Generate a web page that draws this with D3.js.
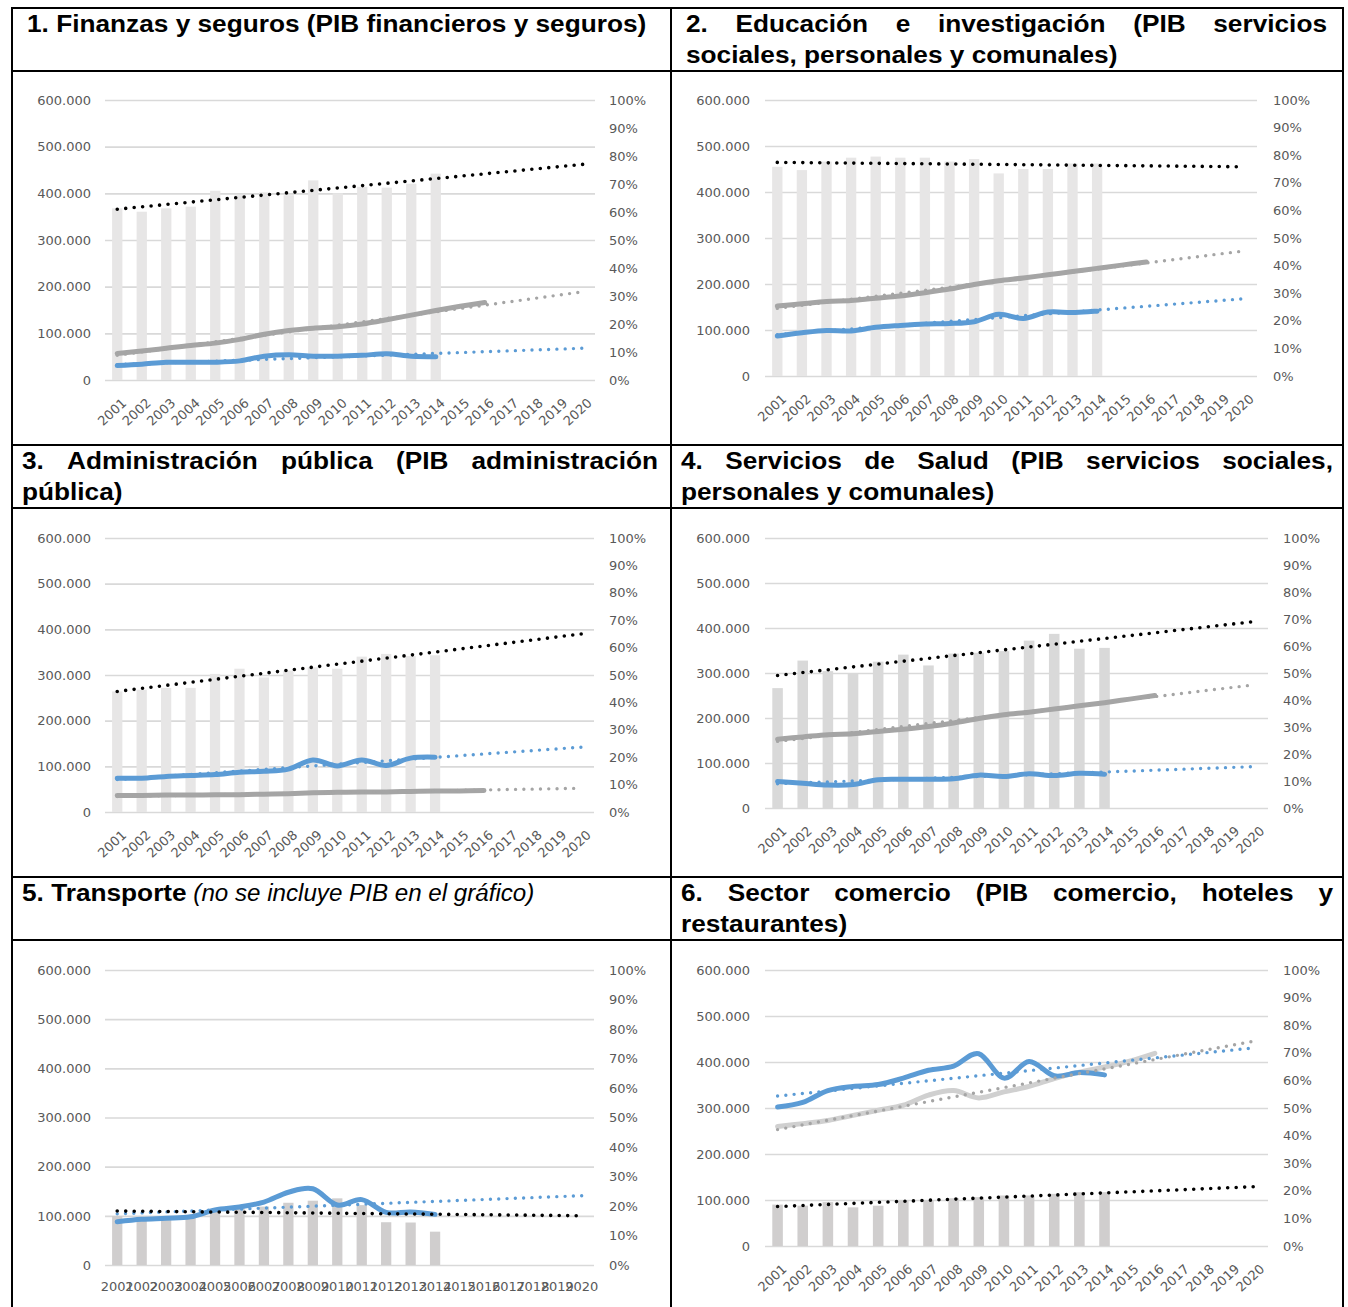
<!DOCTYPE html>
<html><head><meta charset="utf-8">
<script src="https://cdn.jsdelivr.net/npm/d3@7"></script>
<style>
body{margin:0;background:#fff}
.hd{font-family:"Liberation Sans",Arial,sans-serif;font-weight:bold;font-size:23px;fill:#000}
.hdi{font-family:"Liberation Sans",Arial,sans-serif;font-style:italic;font-size:23px;fill:#000}
.ax text{font-family:"DejaVu Sans",sans-serif;font-size:13px;fill:#595959}
</style>
</head><body>
<svg id="c" width="1348" height="1307"></svg>
<script>
// ---------- shared categories / ticks ----------
const years = ["2001","2002","2003","2004","2005","2006","2007","2008","2009","2010",
               "2011","2012","2013","2014","2015","2016","2017","2018","2019","2020"];
const barYears  = years.slice(0, 14);
const blueYears = years.slice(0, 14);
const grayYears = years.slice(0, 16);
const trendYears = ["2001", "2020"];
const leftTicks = [0, 100000, 200000, 300000, 400000, 500000, 600000];
const leftTickLabels = ["0", "100.000", "200.000", "300.000", "400.000", "500.000", "600.000"];
const rightTicks = [0, 10, 20, 30, 40, 50, 60, 70, 80, 90, 100];
const rightTickLabels = ["0%", "10%", "20%", "30%", "40%", "50%", "60%", "70%", "80%", "90%", "100%"];

// ---------- titles ----------
const title1 = ["1. Finanzas y seguros (PIB financieros y seguros)"];
const title2 = ["2. Educación e investigación (PIB servicios", "sociales, personales y comunales)"];
const title3 = ["3. Administración pública (PIB administración", "pública)"];
const title4 = ["4. Servicios de Salud (PIB servicios sociales,", "personales y comunales)"];
const title5Bold = "5. Transporte";
const title5Italic = " (no se incluye PIB en el gráfico)";
const title6 = ["6. Sector comercio (PIB comercio, hoteles y", "restaurantes)"];

// ---------- panel 1 ----------
const p1Bars = [61.3, 60.1, 61.3, 61.9, 67.6, 66.0, 67.0, 66.0, 71.3, 66.7, 69.0, 68.7, 70.1, 73.7];
const p1Blue = [31000, 34000, 38000, 38000, 38000, 41000, 51000, 54000, 51000, 51000, 53000, 56000, 51000, 50000];
const p1Gray = [57000, 62000, 68000, 74000, 79000, 87000, 98000, 106000, 111000, 114000, 120000, 129000, 139000, 149000, 158000, 166000];
const p1BarsTrend = [61, 77];
const p1BlueTrend = [33000, 68000];
const p1GrayTrend = [53000, 189000];

// ---------- panel 2 ----------
const p2Bars = [75.8, 74.6, 77.7, 79.1, 79.5, 79.1, 79.1, 77.7, 78.6, 73.4, 75.0, 75.0, 77.0, 77.0];
const p2Blue = [87000, 94000, 99000, 98000, 106000, 110000, 113000, 114000, 118000, 134000, 125000, 139000, 138000, 141000];
const p2Gray = [152000, 157000, 162000, 164000, 169000, 174000, 181000, 189000, 199000, 207000, 213000, 220000, 227000, 234000, 241000, 248000];
const p2BarsTrend = [77.4, 75.8];
const p2BlueTrend = [90000, 168000];
const p2GrayTrend = [147000, 272000];

// ---------- panel 3 ----------
const p3Bars = [44.0, 44.6, 45.3, 45.3, 50.4, 52.3, 49.1, 51.6, 52.8, 52.3, 56.7, 57.7, 56.9, 57.2];
const p3Blue = [74000, 74000, 78000, 80000, 82000, 87000, 89000, 94000, 114000, 101000, 114000, 102000, 118000, 120000];
const p3Gray = [36000, 36000, 37000, 37000, 38000, 38000, 39000, 40000, 42000, 43000, 44000, 44000, 45000, 46000, 46000, 47000];
const p3BarsTrend = [44, 65];
const p3BlueTrend = [71000, 142000];
const p3GrayTrend = [34000, 52000];

// ---------- panel 4 ----------
const p4Bars = [44.4, 54.6, 50.7, 50.0, 54.2, 56.8, 52.8, 57.2, 57.5, 58.1, 62.0, 64.5, 59.0, 59.3];
const p4Blue = [59000, 55000, 51000, 52000, 63000, 64000, 64000, 65000, 73000, 70000, 76000, 72000, 77000, 75000];
const p4Gray = [153000, 158000, 163000, 165000, 170000, 175000, 181000, 189000, 199000, 207000, 213000, 220000, 227000, 234000, 242000, 250000];
const p4BarsTrend = [49.1, 69.1];
const p4BlueTrend = [54000, 92000];
const p4GrayTrend = [148000, 274000];

// ---------- panel 5 ----------
const p5Bars = [16.6, 15.8, 16.4, 17.0, 18.6, 19.8, 19.8, 21.1, 21.8, 22.6, 20.3, 14.5, 14.4, 11.3];
const p5Blue = [88000, 93000, 95000, 98000, 112000, 118000, 128000, 148000, 155000, 122000, 133000, 107000, 108000, 103000];
const p5BarsTrend = [18.3, 16.7];
const p5BlueTrend = [104000, 141000];

// ---------- panel 6 ----------
const p6Bars = [15.0, 14.6, 15.9, 14.0, 14.6, 16.5, 16.5, 17.3, 17.7, 18.3, 18.3, 18.9, 19.5, 19.5];
const p6Blue = [302000, 312000, 338000, 347000, 351000, 365000, 382000, 391000, 418000, 365000, 401000, 370000, 377000, 372000];
const p6Gray = [260000, 266000, 273000, 284000, 295000, 306000, 328000, 338000, 322000, 335000, 347000, 364000, 378000, 389000, 402000, 419000];
const p6BarsTrend = [14.3, 21.5];
const p6BlueTrend = [326000, 431000];
const p6GrayTrend = [253000, 446000];

// ---------- layout (positions and styles only) ----------
const BLUE = "#5b9bd5", GRAY = "#a5a5a5";
const panels = [
  {gx0:105, gx1:595, yTop:100, yBot:380, lp:14, rp:14, barColor:"#e7e6e6", grayColor:GRAY,
   bars:p1Bars, blue:p1Blue, gray:p1Gray, barsTrend:p1BarsTrend, blueTrend:p1BlueTrend, grayTrend:p1GrayTrend},
  {gx0:765, gx1:1257, yTop:100, yBot:376, lp:15, rp:16, barColor:"#e7e6e6", grayColor:GRAY,
   bars:p2Bars, blue:p2Blue, gray:p2Gray, barsTrend:p2BarsTrend, blueTrend:p2BlueTrend, grayTrend:p2GrayTrend},
  {gx0:105, gx1:594, yTop:538, yBot:812, lp:14, rp:15, barColor:"#e7e6e6", grayColor:GRAY,
   bars:p3Bars, blue:p3Blue, gray:p3Gray, barsTrend:p3BarsTrend, blueTrend:p3BlueTrend, grayTrend:p3GrayTrend},
  {gx0:765, gx1:1268, yTop:538, yBot:808, lp:15, rp:15, barColor:"#d9d9d9", grayColor:GRAY,
   bars:p4Bars, blue:p4Blue, gray:p4Gray, barsTrend:p4BarsTrend, blueTrend:p4BlueTrend, grayTrend:p4GrayTrend},
  {gx0:105, gx1:594, yTop:970, yBot:1265, lp:14, rp:15, barColor:"#d0cece", grayColor:GRAY, flatLabels:true,
   bars:p5Bars, blue:p5Blue, gray:null, barsTrend:p5BarsTrend, blueTrend:p5BlueTrend, grayTrend:null},
  {gx0:765, gx1:1268, yTop:970, yBot:1246, lp:15, rp:15, barColor:"#d0cece", grayColor:"#d0d0d0",
   bars:p6Bars, blue:p6Blue, gray:p6Gray, barsTrend:p6BarsTrend, blueTrend:p6BlueTrend, grayTrend:p6GrayTrend}
];

const svg = d3.select("#c");
const SX = 1.14;

// ---------- table borders ----------
const hLines = [8, 71, 445, 508, 877, 940];
const vLines = [12, 671, 1343];
svg.selectAll(".hl").data(hLines).join("line")
  .attr("x1", 11).attr("x2", 1344).attr("y1", d => d).attr("y2", d => d)
  .attr("stroke", "#000").attr("stroke-width", 2);
svg.selectAll(".vl").data(vLines).join("line")
  .attr("x1", d => d).attr("x2", d => d).attr("y1", 7).attr("y2", 1307)
  .attr("stroke", "#000").attr("stroke-width", 2);

// ---------- headers ----------
function header(lines, x0, x1, y0, lh) {
  lines.forEach((line, i) => {
    const y = y0 + i * lh;
    if (i === lines.length - 1) {
      const t = svg.append("text").attr("class", "hd").attr("x", x0).attr("y", y).text(line);
      const w = t.node().getComputedTextLength();
      t.attr("textLength", w * SX).attr("lengthAdjust", "spacingAndGlyphs");
    } else {
      const words = line.split(" ");
      const nodes = words.map(w => svg.append("text").attr("class", "hd").attr("y", y).text(w));
      const ws = nodes.map(n => n.node().getComputedTextLength() * SX);
      const gap = (x1 - x0 - d3.sum(ws)) / (words.length - 1);
      let x = x0;
      nodes.forEach((n, k) => {
        n.attr("x", x).attr("textLength", ws[k]).attr("lengthAdjust", "spacingAndGlyphs");
        x += ws[k] + gap;
      });
    }
  });
}
header(title1, 27, 655, 32, 31);
header(title2, 686, 1327, 32, 31);
header(title3, 22, 658, 469, 31);
header(title4, 681, 1333, 469, 31);
header(title6, 681, 1333, 901, 31);
{
  const tb = svg.append("text").attr("class", "hd").attr("x", 22).attr("y", 901).text(title5Bold);
  const wb = tb.node().getComputedTextLength() * SX;
  tb.attr("textLength", wb).attr("lengthAdjust", "spacingAndGlyphs");
  const ti = svg.append("text").attr("class", "hdi").attr("x", 22 + wb).attr("y", 901)
    .attr("xml:space", "preserve").style("white-space", "pre").text(title5Italic);
  const wi = ti.node().getComputedTextLength();
  ti.attr("textLength", wi * 1.05).attr("lengthAdjust", "spacingAndGlyphs");
}

// ---------- charts ----------
function drawPanel(p) {
  const g = svg.append("g");
  const x = d3.scaleBand().domain(years).range([p.gx0, p.gx1]);
  const yL = d3.scaleLinear().domain([0, 600000]).range([p.yBot, p.yTop]);
  const yR = d3.scaleLinear().domain([0, 100]).range([p.yBot, p.yTop]);
  const cx = d => x(d) + x.bandwidth() / 2;

  // left axis with gridlines
  const aL = g.append("g").attr("class", "ax").attr("transform", `translate(${p.gx0},0)`)
    .call(d3.axisLeft(yL).tickValues(leftTicks).tickFormat((d, i) => leftTickLabels[i])
      .tickSize(-(p.gx1 - p.gx0)).tickPadding(p.lp));
  aL.select(".domain").remove();
  aL.selectAll("line").attr("stroke", "#d9d9d9").attr("stroke-width", 1.6);

  // right axis
  const aR = g.append("g").attr("class", "ax").attr("transform", `translate(${p.gx1},0)`)
    .call(d3.axisRight(yR).tickValues(rightTicks).tickFormat((d, i) => rightTickLabels[i])
      .tickSize(0).tickPadding(p.rp));
  aR.select(".domain").remove();

  // bars
  g.append("g").selectAll("rect").data(barYears).join("rect")
    .attr("x", d => cx(d) - x.bandwidth() * 0.21)
    .attr("width", x.bandwidth() * 0.42)
    .attr("y", (d, i) => yR(p.bars[i]))
    .attr("height", (d, i) => yR(0) - yR(p.bars[i]))
    .attr("fill", p.barColor);

  // bottom axis
  const aB = g.append("g").attr("class", "ax").attr("transform", `translate(0,${p.yBot})`)
    .call(d3.axisBottom(x).tickSize(0));
  aB.select(".domain").remove();
  if (p.flatLabels) {
    aB.selectAll("text").attr("y", 26).attr("dy", 0).style("text-anchor", "middle");
  } else {
    aB.selectAll("text").attr("y", 0).attr("dy", 0)
      .attr("transform", "translate(10,24) rotate(-43)")
      .style("text-anchor", "end");
  }

  const smooth = d3.curveCatmullRom.alpha(0);
  // gray line
  if (p.gray) {
    g.append("path").datum(grayYears.map((d, i) => [cx(d), yL(p.gray[i])]))
      .attr("d", d3.line().curve(smooth)).attr("fill", "none")
      .attr("stroke", p.grayColor).attr("stroke-width", 5).attr("stroke-linecap", "round");
  }
  // blue line
  g.append("path").datum(blueYears.map((d, i) => [cx(d), yL(p.blue[i])]))
    .attr("d", d3.line().curve(smooth)).attr("fill", "none")
    .attr("stroke", BLUE).attr("stroke-width", 5).attr("stroke-linecap", "round");

  // trend lines (dotted)
  const trend = (vals, scale, color, w, gap) => {
    g.append("path").datum(trendYears.map((d, i) => [cx(d), scale(vals[i])]))
      .attr("d", d3.line()).attr("fill", "none")
      .attr("stroke", color).attr("stroke-width", w)
      .attr("stroke-linecap", "round").attr("stroke-dasharray", `0 ${gap}`);
  };
  if (p.grayTrend) trend(p.grayTrend, yL, GRAY, 3.4, 8.3);
  trend(p.blueTrend, yL, BLUE, 3.4, 8.3);
  trend(p.barsTrend, yR, "#000", 3.6, 8.5);
}
panels.forEach(drawPanel);
</script>
</body></html>
